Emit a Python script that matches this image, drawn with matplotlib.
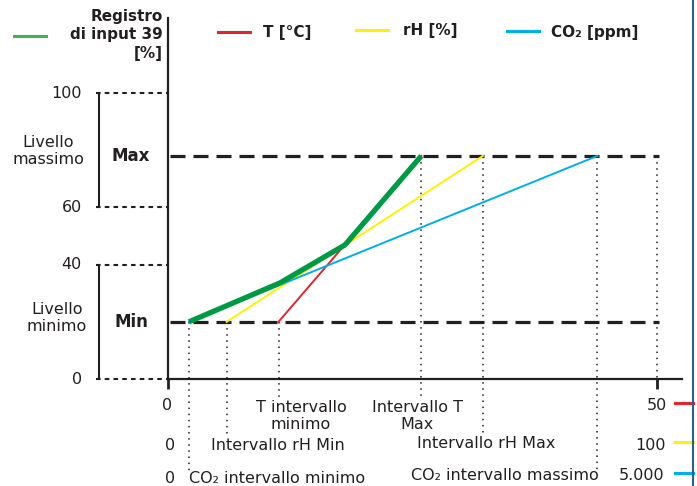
import matplotlib.pyplot as plt
from matplotlib.lines import Line2D

W, H = 697, 486

# levels of the register (0-100 %)
level_ticks = [0, 40, 60, 100]
level_min = 20
level_max = 78

# ranges of the three inputs, each in its own unit
t_range = [11.3, 25.9]        # °C, scale 0-50
rh_range = [12, 64.4]         # %, scale 0-100
co2_range = [215, 4390]       # ppm, scale 0-5000
t_full, rh_full, co2_full = 50, 100, 5000

# resulting register 39 (max of the three)
register_x = [2.15, 11.45, 18.1, 25.9]
register_y = [20, 33.6, 46.9, 78]

INK = '#231f20'
RED = '#e3262b'
YELLOW = '#fff200'
BLUE = '#00aeef'
GREEN = '#009a44'


def fx(px):
    return px / W


def fy(py):
    return 1 - py / H


def on_t_scale(values, full):
    return [v * t_full / full for v in values]


fig = plt.figure(figsize=(6.97, 4.86), dpi=100)
ax = fig.add_axes([fx(168), fy(379), fx(682) - fx(168), fy(18) - fy(379)])
ax.set_xlim(0, (682 - 168) * t_full / (657 - 168))
ax.set_ylim(0, (379 - 18) * 100 / (379 - 93))

for side in ['top', 'right']:
    ax.spines[side].set_visible(False)
for side in ['left', 'bottom']:
    ax.spines[side].set_linewidth(1.6)
    ax.spines[side].set_color(INK)
ax.set_yticks([])
ax.set_xticks([0, t_full])
ax.tick_params(axis='x', length=7, width=2, color=INK, labelbottom=False)

t_x = t_range
rh_x = on_t_scale(rh_range, rh_full)
co2_x = on_t_scale(co2_range, co2_full)

# dashed min / max levels
for lvl in [level_min, level_max]:
    ax.plot([0.2, 50.2], [lvl, lvl], color=INK, lw=2.3, dashes=(4.7, 2.5),
            solid_capstyle='butt', dash_capstyle='butt', zorder=2)

# dotted helper lines down to the labels
dot = dict(color=INK, lw=1.1, linestyle=(0, (1, 3)), clip_on=False, zorder=1)
ax.plot([co2_x[0]] * 2, [level_min, -32.5], **dot)
ax.plot([rh_x[0]] * 2, [level_min, -20.3], **dot)
ax.plot([t_x[0]] * 2, [level_min, -6.6], **dot)
ax.plot([t_x[1]] * 2, [level_max, -7.5], **dot)
ax.plot([rh_x[1]] * 2, [level_max, -20.3], **dot)
ax.plot([co2_x[1]] * 2, [level_max, -32.5], **dot)
ax.plot([t_full] * 2, [level_max, 0], **dot)

# left scale: dotted guides and brackets
x_guide = -7.4
for v in level_ticks:
    ax.plot([x_guide, 0], [v, v], color=INK, lw=1.5, dashes=(2.2, 2.0), clip_on=False)
    ax.text(-8.8, v, str(v), ha='right', va='center', fontsize=11.5, color=INK)
ax.plot([-7.06, -7.06], [level_ticks[2], level_ticks[3]], color=INK, lw=1.5, clip_on=False)
ax.plot([-7.06, -7.06], [level_ticks[0], level_ticks[1]], color=INK, lw=1.5, clip_on=False)

ax.text(-3.8, level_max, 'Max', ha='center', va='center', fontsize=12,
        fontweight='bold', color=INK)
ax.text(-3.7, level_min, 'Min', ha='center', va='center', fontsize=12,
        fontweight='bold', color=INK)

# input curves
ax.plot(t_x, [level_min, level_max], color=RED, lw=1.4, zorder=3)
ax.plot(rh_x, [level_min, level_max], color=YELLOW, lw=1.4, zorder=3)
ax.plot(co2_x, [level_min, level_max], color=BLUE, lw=1.4, zorder=3)
ax.plot(register_x, register_y, color=GREEN, lw=3.8, zorder=4, solid_capstyle='butt')

# left labels
fig.text(fx(48), fy(151), 'Livello\nmassimo', ha='center', va='center',
         fontsize=11.5, color=INK, linespacing=1.15)
fig.text(fx(57), fy(318), 'Livello\nminimo', ha='center', va='center',
         fontsize=11.5, color=INK, linespacing=1.15)

# bottom labels
txt = dict(fontsize=11.5, color=INK, va='center')
fig.text(fx(167), fy(405), '0', ha='center', **txt)
fig.text(fx(170), fy(445), '0', ha='center', **txt)
fig.text(fx(170), fy(478), '0', ha='center', **txt)
fig.text(fx(301), fy(416), 'T intervallo\nminimo', ha='center', linespacing=1.15, **txt)
fig.text(fx(417), fy(416), 'Intervallo T\nMax', ha='center', linespacing=1.15, **txt)
fig.text(fx(278), fy(445), 'Intervallo rH Min', ha='center', **txt)
fig.text(fx(486), fy(443), 'Intervallo rH Max', ha='center', **txt)
fig.text(fx(189), fy(478), 'CO₂ intervallo minimo', ha='left', **txt)
fig.text(fx(599), fy(475), 'CO₂ intervallo massimo', ha='right', **txt)
fig.text(fx(667), fy(405), '50', ha='right', **txt)
fig.text(fx(666), fy(445), '100', ha='right', **txt)
fig.text(fx(664), fy(475), '5.000', ha='right', **txt)

for py, col in [(403, RED), (442, YELLOW), (473, BLUE)]:
    fig.add_artist(Line2D([fx(675), fx(693)], [fy(py), fy(py)], color=col, lw=2.2))
fig.add_artist(Line2D([fx(693), fx(693)], [0, 1], color='#2b5f8e', lw=1.5))

# legend entries
entries = [
    ('Registro\ndi input 39\n[%]', '#3cb54a', 14, 35, 1.55),
    ('T [°C]', RED, 218, 33, 0.85),
    ('rH [%]', YELLOW, 356, 31, 1.0),
    ('CO₂ [ppm]', BLUE, 507, 32, 0.8),
]
for label, col, px, py, pad in entries:
    leg = fig.legend(handles=[Line2D([], [], color=col, lw=2.2)], labels=[label],
                     loc='center left', bbox_to_anchor=(fx(px), fy(py)),
                     frameon=False, borderpad=0, borderaxespad=0,
                     handlelength=2.1, handletextpad=pad,
                     prop=dict(size=11, weight='bold'))
    for t in leg.get_texts():
        t.set_color(INK)
        t.set_multialignment('right')
        t.set_linespacing(1.3)

fig.savefig('out.png', dpi=100)
